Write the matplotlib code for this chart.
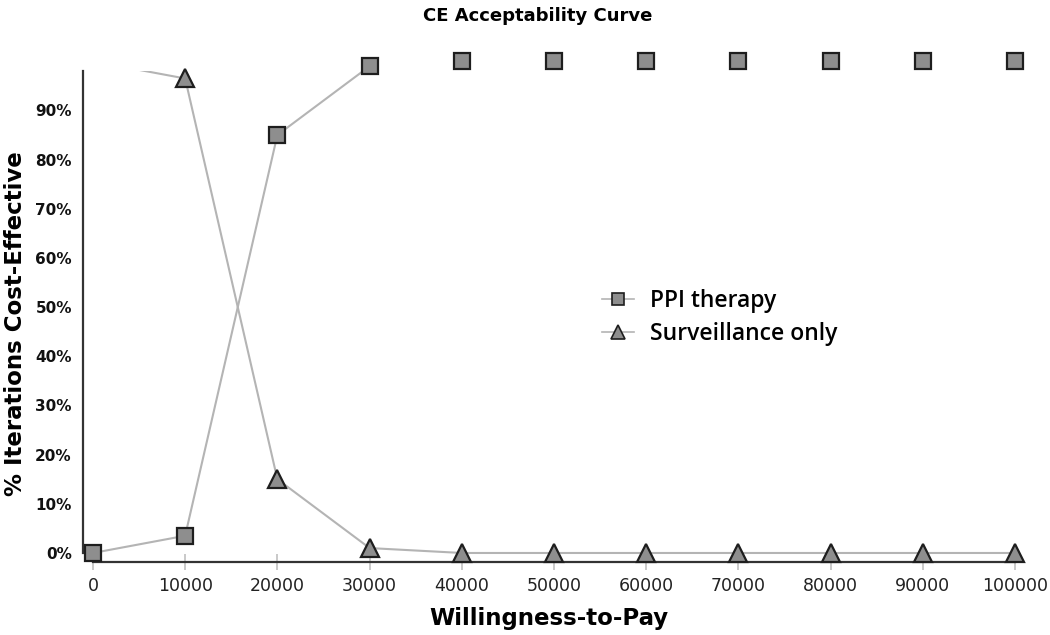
import numpy as np
import matplotlib
matplotlib.use("Agg")
import matplotlib.pyplot as plt

# willingness-to-pay thresholds and % iterations cost-effective
wtp = [0, 10000, 20000, 30000, 40000, 50000, 60000, 70000, 80000, 90000, 100000]
ppi = [0.0, 3.5, 85.0, 99.0, 100, 100, 100, 100, 100, 100, 100]
surv = [100, 96.5, 15.0, 1.0, 0, 0, 0, 0, 0, 0, 0]
yticks = [0, 10, 20, 30, 40, 50, 60, 70, 80, 90]

line_col = '#b4b4b4'
face_col = '#8e8e8e'
edge_col = '#1e1e1e'

fig = plt.figure(figsize=(10.5, 6.35), dpi=100)
ax = fig.add_axes([0.079, 0.115, 0.8877, 0.773])

# lines (clipped at top) then markers (not clipped)
ax.plot(wtp, ppi, color=line_col, lw=1.5, zorder=2)
ax.plot(wtp, surv, color=line_col, lw=1.5, zorder=2)
ax.plot(wtp, ppi, ls='none', marker='s', ms=12, mfc=face_col, mec=edge_col,
        mew=1.6, clip_on=False, zorder=3)
# first surveillance point sits above the plot area and is not shown
ax.plot(wtp, surv, ls='none', marker='^', ms=13, mfc=face_col, mec=edge_col,
        mew=1.6, clip_on=False, zorder=3, markevery=slice(1, None))

ax.set_xlim(-1085, 100000)
ax.set_ylim(-1.83, 98.0)

for s in ['top', 'right']:
    ax.spines[s].set_visible(False)
ax.spines['left'].set_bounds(0, 98)
ax.spines['bottom'].set_bounds(0, 100000)
for s in ['left', 'bottom']:
    ax.spines[s].set_color('#333333')
    ax.spines[s].set_linewidth(1.6)

ax.set_xticks(wtp)
ax.set_xticklabels([str(v) for v in wtp], fontsize=12.5, color='#222222')
ax.tick_params(axis='x', direction='inout', length=11, width=1.2, color='#c0c0c0', pad=5)
ax.set_yticks(yticks)
ax.set_yticklabels([f'{v}%' for v in yticks], fontsize=11, fontweight='bold', color='#111111')
ax.tick_params(axis='y', length=0, pad=8)

fig.text(0.512, 0.975, 'CE Acceptability Curve', fontsize=13, fontweight='bold',
         ha='center', va='center')
ax.set_xlabel('Willingness-to-Pay', fontsize=16.5, fontweight='bold', labelpad=9)
ax.set_ylabel('% Iterations Cost-Effective', fontsize=16.5, fontweight='bold', labelpad=6)
ax.yaxis.set_label_coords(-0.06, 0.485)

# legend
h1, = ax.plot([], [], color=line_col, lw=1.2, marker='s', ms=9, mfc=face_col, mec=edge_col, mew=1.2)
h2, = ax.plot([], [], color=line_col, lw=1.2, marker='^', ms=10, mfc=face_col, mec=edge_col, mew=1.2)
ax.legend([h1, h2], ['PPI therapy', 'Surveillance only'], loc='center left',
          bbox_to_anchor=(0.535, 0.498), frameon=False, handlelength=1.4,
          handletextpad=0.7, labelspacing=0.4,
          prop={'family': 'Open Sans', 'weight': 'semibold', 'size': 16.5})

fig.savefig('out.png', dpi=100)
